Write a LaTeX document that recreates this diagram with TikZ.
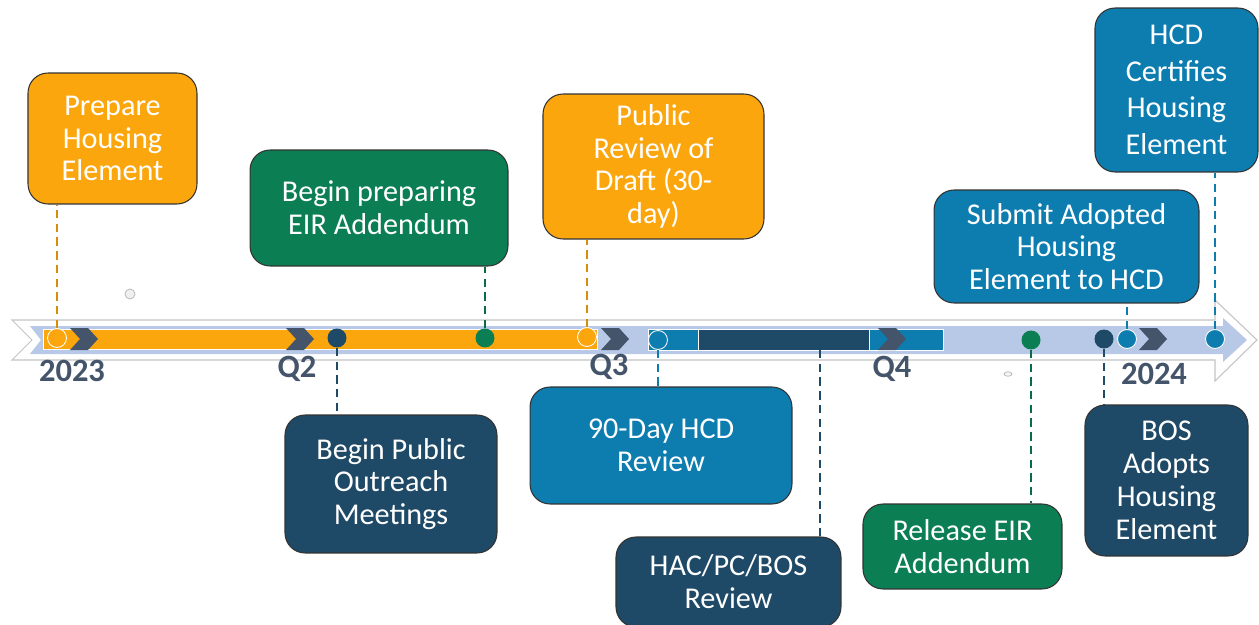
\documentclass[tikz,border=0pt]{standalone}
\usepackage{fontspec}
\setmainfont{Carlito}
\usepackage{xcolor}
\definecolor{hOrange}{HTML}{FCA60E}
\definecolor{hGreen}{HTML}{0B7F53}
\definecolor{hBlue}{HTML}{0D7DB0}
\definecolor{hNavy}{HTML}{1E4A67}
\definecolor{hSlate}{HTML}{44546A}
\definecolor{hBar}{HTML}{B8C9E8}
\definecolor{hEdge}{HTML}{C4C4C4}
\tikzset{stage/.style={draw=black!80, line width=0.6pt, rounded corners=0.4cm, text=white, align=center, inner sep=0pt, font=\fontsize{17.2}{18.7}\selectfont}}
\tikzset{orangebox/.style={stage, fill=hOrange}}
\tikzset{greenbox/.style={stage, fill=hGreen}}
\tikzset{bluebox/.style={stage, fill=hBlue}}
\tikzset{navybox/.style={stage, fill=hNavy}}
\tikzset{dot/.style={circle, minimum size=0.38cm, inner sep=0pt, draw=white, line width=0.5pt}}
\tikzset{lead/.style={dash pattern=on 4.8pt off 3pt, line width=1.5pt}}
\tikzset{quarter/.style={text=hSlate, font=\fontsize{18.5}{20}\selectfont\bfseries}}

\begin{document}
\begin{tikzpicture}[x=0.02cm, y=-0.02cm]
\useasboundingbox (0,0) rectangle (1259,625);
\draw[hEdge, fill=white, line width=0.6pt] (12,320) -- (1215,320) -- (1215,300) -- (1257,340) -- (1215,381) -- (1215,360) -- (12,360) -- (32,340) -- cycle;
\fill[hBar] (30,326) -- (1223,326) -- (1223,318) -- (1247,340) -- (1223,362) -- (1223,354) -- (30,354) -- (41,340) -- cycle;
\draw[white, fill=hOrange, line width=0.5pt] (43,329) rectangle (597,349);
\draw[white, fill=hBlue, line width=0.5pt] (648,329) rectangle (698,350);
\draw[white, fill=hNavy, line width=0.5pt] (698,329) rectangle (869,350);
\draw[white, fill=hBlue, line width=0.5pt] (869,329) rectangle (943,350);
\foreach \x in {84,300,615,892,1153}
  \fill[hSlate] (\x-14,328) -- (\x+4,328) -- (\x+14,339) -- (\x+4,350) -- (\x-14,350) -- (\x-4,339) -- cycle;

\node[dot, fill=hOrange] (c1) at (57,338) {};
\node[dot, fill=hNavy, draw=none] (c2) at (337,338) {};
\node[dot, fill=hGreen, draw=none] (c3) at (485,338) {};
\node[dot, fill=hOrange] (c4) at (587,337) {};
\node[dot, fill=hBlue] (c5) at (658,340) {};
\node[dot, fill=hGreen, draw=none] (c6) at (1031,340) {};
\node[dot, fill=hNavy, draw=none] (c7) at (1104,339) {};
\node[dot, fill=hBlue] (c8) at (1127,339) {};
\node[dot, fill=hBlue] (c9) at (1215,339) {};
\coordinate (c10) at (820,350);

\node[quarter] (y2023) at (72,371) {2023};
\node[quarter] (q2) at (297,369) {Q2};
\node[quarter] (q3) at (609,367) {Q3};
\node[quarter] (q4) at (892,369) {Q4};
\node[quarter] (y2024) at (1154,374) {2024};

\node[orangebox, minimum width=3.38cm, minimum height=2.62cm] (b1) at (112.5,138.5) {Prepare\\Housing\\Element};
\node[greenbox, minimum width=5.16cm, minimum height=2.32cm] (b2) at (379,208) {Begin preparing\\EIR Addendum};
\node[orangebox, minimum width=4.42cm, minimum height=2.9cm] (b3) at (653.5,166.5) {Public\\Review of\\Draft (30-\\day)};
\node[bluebox, minimum width=3.26cm, minimum height=3.28cm, font=\fontsize{17.2}{20.8}\selectfont] (b4) at (1176.5,90) {HCD\\Certifies\\Housing\\Element};
\node[bluebox, minimum width=5.3cm, minimum height=2.26cm] (b5) at (1066.5,246.5) {Submit Adopted\\Housing\\Element to HCD};
\node[navybox, minimum width=4.24cm, minimum height=2.76cm] (b6) at (391,484) {Begin Public\\Outreach\\Meetings};
\node[bluebox, minimum width=5.24cm, minimum height=2.34cm] (b7) at (661,445.5) {90-Day HCD\\Review};
\node[navybox, minimum width=4.5cm, minimum height=1.8cm] (b8) at (728.5,582) {HAC/PC/BOS\\Review};
\node[greenbox, minimum width=3.98cm, minimum height=1.7cm] (b9) at (962.5,546.5) {Release EIR\\Addendum};
\node[navybox, minimum width=3.26cm, minimum height=3.02cm] (b10) at (1166.5,480.5) {BOS\\Adopts\\Housing\\Element};

\draw[lead, hOrange!85!black] (c1.north) -- (c1 |- b1.south);
\draw[lead, hGreen!85!black] (c3.north) -- (c3 |- b2.south);
\draw[lead, hOrange!85!black] (c4.north) -- (c4 |- b3.south);
\draw[lead, hBlue] (c9.north) -- (c9 |- b4.south);
\draw[lead, hBlue] (c8.north) -- (c8 |- b5.south);
\draw[lead, hNavy] (c2.south) -- (c2 |- b6.north);
\draw[lead, hBlue] (c5.south) -- (c5 |- b7.north);
\draw[lead, hNavy] (c10) -- (c10 |- b8.north);
\draw[lead, hGreen!85!black] (c6.south) -- (c6 |- b9.north);
\draw[lead, hNavy] (c7.south) -- (c7 |- b10.north);

\node[circle, draw=gray!60, fill=gray!12, minimum size=0.2cm, inner sep=0pt] (speck) at (130,294) {};
\draw[gray!60, fill=gray!8] (1008,374) ellipse [x radius=0.08cm, y radius=0.045cm];
\end{tikzpicture}
\end{document}
